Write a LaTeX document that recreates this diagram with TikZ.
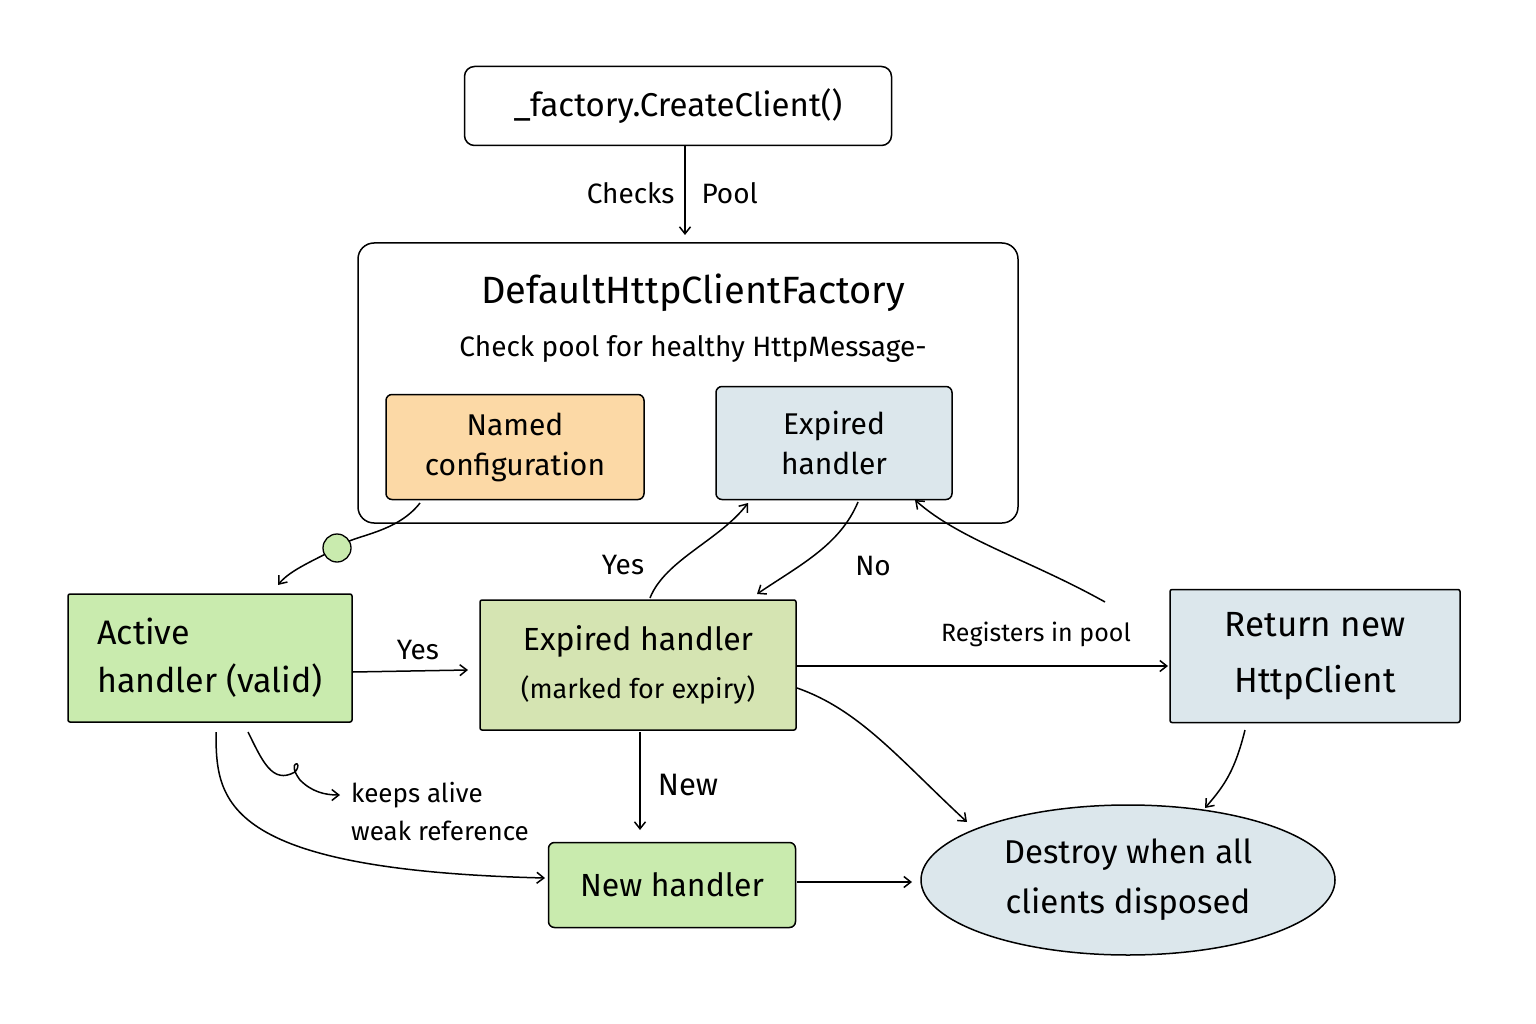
\documentclass[tikz,border=0pt]{standalone}
\usepackage{fontspec}
\setmainfont{Fira Sans}
\usetikzlibrary{arrows.meta,shapes.geometric}
\definecolor{orangef}{HTML}{FCD9A6}
\definecolor{bluef}{HTML}{DCE7EC}
\definecolor{greenf}{HTML}{C9EBAE}
\definecolor{olivef}{HTML}{D5E4B2}
\begin{document}
\begin{tikzpicture}[x=1pt,y=-1pt,
  box/.style={draw=black,line width=1.5pt,rounded corners=6pt,inner sep=0pt,align=center},
  arr/.style={draw=black,line width=1.5pt,-{Straight Barb[length=7pt,width=11pt]}},
  lbl/.style={font=\fontsize{28}{32}\selectfont}]
\useasboundingbox (0,0) rectangle (1536,1024);
\fill[white] (0,0) rectangle (1536,1024);
\node[box,rounded corners=10pt,minimum width=427pt,minimum height=79pt,font=\fontsize{33}{36}\selectfont] (top) at (678,106) {\_factory.CreateClient()};
\node[box,rounded corners=16pt,minimum width=660pt,minimum height=280pt] (fac) at (688,383) {};
\node[font=\fontsize{38}{40}\selectfont] (ftitle) at (693,293) {DefaultHttpClientFactory};
\node[font=\fontsize{28}{32}\selectfont] (fsub) at (693,349) {Check pool for healthy HttpMessage-};
\node[box,fill=orangef,minimum width=258pt,minimum height=105pt,font=\fontsize{30}{40}\selectfont] (named) at (515,447) {Named\\configuration};
\node[box,fill=bluef,minimum width=236pt,minimum height=113pt,font=\fontsize{30}{40}\selectfont] (exp1) at (834,443) {Expired\\handler};
\node[box,fill=greenf,rounded corners=2pt,minimum width=284pt,minimum height=128pt,font=\fontsize{34}{48}\selectfont,align=left] (act) at (210,658) {Active\\handler (valid)};
\node[box,fill=olivef,rounded corners=2pt,minimum width=316pt,minimum height=130pt,font=\fontsize{32}{48}\selectfont] (exp2) at (638,665) {Expired handler\\{\fontsize{27}{30}\selectfont(marked for expiry)}};
\node[box,fill=bluef,rounded corners=2pt,minimum width=290pt,minimum height=133pt,font=\fontsize{35}{56}\selectfont] (ret) at (1315,656) {Return new\\HttpClient};
\node[box,fill=greenf,minimum width=247pt,minimum height=85pt,font=\fontsize{32}{36}\selectfont] (newh) at (672,885) {New handler};
\node[ellipse,draw=black,line width=1.5pt,fill=bluef,minimum width=414pt,minimum height=150pt,inner sep=0pt,align=center,font=\fontsize{33}{50}\selectfont] (dest) at (1128,880) {Destroy when all\\clients disposed};
% connectors
\draw[arr] (top.south -| 685,0) -- (685,235) coordinate (ptip);
\node[lbl,anchor=east] (lc) at (678,193) {Checks};
\node[lbl,anchor=west] (lp) at (698,193) {Pool};
\coordinate (n1) at (420,503);
\coordinate (a1) at (278,585);
\draw[arr] (n1) .. controls (395,535) and (350,535) .. (337,548) .. controls (315,560) and (290,570) .. (a1);
\node[circle,draw=black,line width=1.3pt,fill=greenf,minimum size=28pt,inner sep=0pt] (dot) at (337,548) {};
\draw[arr] (650,598) .. controls (665,560) and (720,540) .. (748,503);
\node[lbl] (yes1) at (623,565) {Yes};
\draw[arr] (858,502) .. controls (840,545) and (800,565) .. (757,594);
\node[lbl] (no1) at (873,566) {No};
\draw[arr] (1105,602) .. controls (1030,560) and (960,540) .. (915,500);
\draw[arr] (act.east |- 0,672) -- (468,670);
\node[lbl] (yes2) at (418,650) {Yes};
\draw[arr] (797,666) -- (1168,666);
\node[font=\fontsize{25}{28}\selectfont] (reg) at (1036,634) {Registers in pool};
\draw[arr] (797,688) .. controls (860,710) and (900,760) .. (967,822);
\draw[arr] (640,732) -- (640,830);
\node[font=\fontsize{31}{34}\selectfont] (newl) at (688,785) {New};
\draw[arr] (248,732) .. controls (262,760) and (272,785) .. (295,772) .. controls (305,760) and (285,760) .. (300,780) .. controls (312,792) and (325,795) .. (340,795);
\node[font=\fontsize{26}{38}\selectfont,align=left] (keep) at (440,812) {keeps alive\\weak reference};
\draw[arr] (216,732) .. controls (216,800) and (220,870) .. (545,878);
\draw[arr] (797,882) -- (912,882);
\draw[arr] (1245,730) .. controls (1235,770) and (1225,785) .. (1205,808);
\end{tikzpicture}
\end{document}
